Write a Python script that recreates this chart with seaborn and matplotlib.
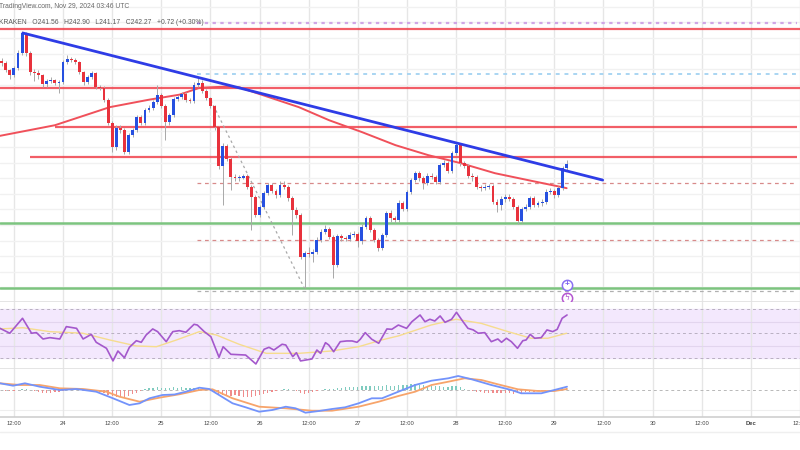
import numpy as np
import pandas as pd
import matplotlib
matplotlib.use("Agg")
import matplotlib.pyplot as plt
import seaborn as sns

sns.set_theme(style="white")
plt.rcParams['font.family'] = ['Liberation Sans', 'DejaVu Sans']

# --- DATA: SOL/USD 1h candles (Kraken) ---
FIRST_CANDLE = pd.Timestamp("2024-11-23 09:00")
ORIGIN = pd.Timestamp("2024-11-23 12:00")      # hour 0 on the x axis
first_open = 258.8

closes = [258.5, 257.4, 256.6, 257.7, 260.1, 263.3, 260.1, 257.0, 256.9, 256.6,
          255.1, 255.6, 255.8, 255.3, 255.4, 258.6, 259.1, 259.0, 258.6, 257.0,
          255.4, 256.2, 256.9, 254.6, 254.5, 252.6, 248.9, 245.0, 248.1, 247.7,
          244.2, 246.9, 247.7, 249.8, 248.9, 251.0, 251.3, 252.2, 253.4, 251.6,
          249.0, 250.1, 252.7, 253.0, 253.5, 252.6, 252.4, 255.0, 255.3, 254.0,
          252.9, 251.6, 248.2, 242.0, 245.2, 243.1, 240.2, 240.0, 240.1, 240.3,
          238.6, 237.0, 234.1, 235.4, 237.6, 238.9, 237.9, 237.3, 238.9, 238.6,
          236.8, 234.9, 234.1, 227.4, 228.0, 227.8, 228.2, 230.1, 231.4, 231.8,
          230.6, 226.1, 230.7, 230.4, 230.2, 230.9, 231.0, 229.9, 232.2, 233.6,
          231.7, 230.1, 228.8, 230.9, 234.4, 233.6, 233.3, 236.0, 235.1, 237.8,
          239.7, 240.8, 240.0, 239.2, 240.4, 240.2, 239.4, 242.1, 242.4, 241.2,
          244.0, 245.3, 242.4, 242.0, 240.4, 240.2, 238.6, 238.4, 238.6, 238.7,
          236.2, 235.7, 236.7, 237.0, 236.7, 235.4, 233.1, 235.0, 235.4, 236.8,
          235.7, 236.0, 236.2, 237.8, 237.9, 237.3, 238.4, 241.6, 242.3]
highs = [259.3, 258.8, 257.6, 258.0, 260.6, 263.6, 263.4, 260.4, 257.5, 257.3,
         256.8, 255.9, 256.2, 256.0, 255.8, 258.9, 259.8, 259.5, 259.3, 258.8,
         257.2, 256.5, 257.2, 257.1, 255.0, 254.8, 252.8, 249.2, 248.5, 248.6,
         248.0, 247.3, 248.0, 250.2, 250.1, 251.3, 251.7, 252.6, 254.9, 253.7,
         251.9, 250.5, 253.0, 253.4, 253.9, 253.8, 252.9, 255.4, 256.1, 255.7,
         254.3, 253.1, 251.8, 248.4, 245.6, 245.5, 243.4, 240.6, 240.5, 240.7,
         240.6, 238.9, 237.3, 235.7, 237.9, 239.3, 239.2, 238.2, 239.6, 239.5,
         238.9, 237.1, 235.3, 234.4, 228.3, 228.9, 228.6, 230.5, 231.8, 232.5,
         232.1, 230.9, 231.0, 231.1, 230.8, 231.3, 231.5, 231.3, 232.6, 234.0,
         233.9, 232.0, 230.4, 231.2, 234.8, 234.9, 234.0, 236.5, 236.4, 238.1,
         240.1, 241.2, 241.1, 240.4, 240.8, 240.8, 240.5, 242.5, 242.9, 242.7,
         244.4, 245.6, 245.5, 242.8, 242.3, 240.9, 240.5, 238.9, 239.0, 239.1,
         239.0, 236.6, 237.1, 237.5, 237.4, 237.0, 235.7, 235.4, 235.8, 237.2,
         237.1, 236.4, 236.6, 238.2, 238.4, 238.2, 238.8, 242.0, 242.9]
lows = [258.0, 257.0, 256.0, 256.2, 257.4, 259.8, 259.6, 256.5, 255.6, 255.9,
        254.7, 254.6, 255.3, 254.9, 253.6, 255.1, 258.3, 258.6, 258.3, 256.7,
        255.0, 255.1, 255.9, 254.3, 254.1, 252.3, 248.5, 244.2, 244.6, 247.3,
        243.9, 243.9, 246.6, 247.4, 248.6, 248.6, 250.7, 251.0, 251.9, 251.2,
        246.1, 248.6, 249.8, 252.4, 252.7, 252.3, 252.0, 252.1, 254.7, 253.7,
        252.5, 251.2, 247.8, 241.4, 235.7, 242.7, 238.1, 239.6, 239.6, 239.8,
        238.2, 231.7, 233.7, 233.8, 235.1, 237.3, 237.6, 236.9, 237.0, 238.2,
        236.4, 230.9, 233.6, 227.0, 222.4, 227.3, 226.5, 227.9, 229.8, 231.0,
        230.2, 224.0, 225.8, 230.0, 229.9, 229.9, 230.6, 229.0, 229.5, 231.9,
        231.3, 229.7, 228.3, 228.5, 230.6, 232.9, 232.8, 233.0, 234.7, 234.8,
        237.5, 239.4, 239.6, 238.3, 238.9, 239.8, 239.0, 239.1, 241.8, 240.8,
        240.9, 243.7, 242.0, 241.6, 240.0, 239.6, 238.2, 238.0, 238.1, 238.2,
        235.8, 234.6, 234.9, 236.2, 236.3, 235.0, 232.7, 232.8, 234.7, 235.1,
        235.3, 235.4, 235.6, 235.9, 237.5, 236.9, 237.0, 238.1, 241.2]

# 100-period moving average (red curve), sampled along the chart
ma_hours = [-3.4, 10, 23.4, 33, 40.4, 45.3, 48.4, 52, 55, 62.3, 69.6, 77, 85,
            93.2, 101.2, 109.2, 117.5, 125.5, 133.6, 135]
ma_prices = [246.8, 248.5, 251.4, 252.6, 253.4, 254.5, 254.6, 254.7, 254.6, 253.0,
             251.4, 249.3, 247.4, 245.3, 243.7, 242.4, 240.8, 239.7, 238.6, 238.4]

# drawings: descending trend line, dotted swing line, horizontal levels
trend_hours = [2.2, 143.8]
trend_prices = [263.3, 239.7]
swing_hours = [48.1, 70.9]
swing_prices = [252.5, 222.4]
red_levels = [263.9, 254.5, 248.2, 243.4]
red_level_from = [None, None, 10.0, 4.0]
green_levels = [232.8, 222.4]
dashed_levels = [239.2, 230.1, 221.9]
dashed_from = 44.8
purple_dotted, blue_dotted = 264.9, 256.7

# RSI(14) and its moving average
rsi_hours = [-3.4, -1.0, 2.1, 4.3, 5.5, 7.1, 8.8, 11.2, 12.8, 15.3, 16.9, 18.9, 20.1,
             22.6, 24.2, 25.4, 27.0, 28.2, 29.9, 31.1, 32.3, 33.9, 35.1, 37.2, 38.8,
             40.4, 42.0, 44.0, 44.8, 46.5, 48.1, 50.1, 51.1, 53.0, 56.6, 59.1, 61.1,
             62.3, 63.5, 65.5, 66.4, 68.1, 69.0, 70.0, 72.8, 74.0, 74.9, 76.1, 76.9,
             78.1, 79.7, 81.3, 82.6, 83.8, 84.6, 85.8, 87.4, 89.1, 91.1, 92.3, 93.9,
             95.9, 97.2, 99.2, 100.4, 101.6, 102.8, 104.1, 105.3, 106.9, 108.1, 109.7,
             110.9, 112.2, 113.4, 115.0, 116.6, 118.2, 119.1, 120.3, 121.5, 123.0,
             124.3, 125.1, 126.1, 127.2, 128.8, 130.2, 131.6, 132.7, 133.9, 135.1]
rsi_vals = [54.2, 50.2, 62.4, 50.2, 50.7, 45.5, 46.6, 45.5, 55.6, 54.2, 45.5, 49.3, 42.8,
            37.9, 27.6, 35.7, 30.2, 38.7, 44.1, 42.8, 48.8, 53.7, 51.5, 43.3, 51.5,
            52.3, 51.0, 57.5, 56.9, 51.5, 47.4, 30.6, 39.2, 33.0, 32.4, 25.1, 37.1,
            38.7, 36.5, 41.2, 40.6, 31.1, 34.3, 27.6, 29.2, 36.5, 33.8, 42.5, 40.6,
            35.1, 43.3, 43.9, 43.9, 42.8, 45.3, 50.7, 45.3, 42.0, 53.7, 53.4, 56.9,
            54.2, 59.6, 65.1, 59.6, 61.6, 60.2, 64.3, 59.1, 61.6, 67.3, 59.6,
            54.2, 52.9, 50.2, 50.7, 43.3, 45.5, 42.8, 46.1, 43.3, 37.9,
            44.1, 44.7, 49.3, 46.1, 46.6, 52.9, 51.5, 53.4, 62.4, 65.1]
rsi_ma_hours = [-3.4, 2.2, 8.8, 16.8, 23.4, 29.9, 34.8, 39.7, 45.3, 49.4, 55.0, 61.6,
                69.6, 77.6, 84.2, 89.8, 93.9, 101.9, 108.0, 114.1, 120.7, 126.3, 130.4, 135.0]
rsi_ma_vals = [53.7, 54.7, 51.5, 50.2, 44.7, 39.8, 39.2, 44.7, 51.5, 48.8, 41.2, 33.8,
               33.8, 35.7, 39.2, 44.7, 48.0, 56.9, 61.6, 58.3, 51.5, 46.1, 46.1, 50.2]

# MACD (12, 26, 9)
macd_hours = [-3.4, -0.2, 2.7, 6.3, 11.2, 15.3, 20.1, 24.2, 28.2, 30.7, 33.1, 36.3, 39.2,
              42.0, 45.3, 47.7, 50.1, 53.4, 56.6, 59.9, 63.1, 66.4, 68.8, 71.2, 74.5,
              77.7, 80.9, 84.2, 87.4, 89.9, 93.9, 98.0, 102.0, 106.1, 108.5, 111.8,
              116.6, 121.5, 123.9, 128.8, 132.0, 135.1]
macd_vals = [1.34, 0.86, 1.34, 0.66, 0.0, 0.2, -0.34, -1.66, -3.0, -2.66, -1.66, -1.0, -0.9,
             -0.34, 0.46, 0.2, -1.0, -2.66, -3.46, -4.34, -4.0, -3.34, -3.66, -4.54, -4.2,
             -3.8, -3.46, -2.66, -1.66, -1.66, -0.34, 1.0, 1.86, 2.34, 2.8, 2.14,
             1.0, 0.0, -0.66, -0.66, 0.0, 0.66]
signal_hours = [-3.4, 1.5, 6.3, 11.2, 16.9, 22.6, 25.8, 30.7, 35.5, 40.4, 45.3, 48.5,
                53.4, 59.9, 66.4, 72.8, 77.7, 84.2, 89.1, 93.9, 98.0, 102.0, 106.1,
                110.1, 114.2, 118.2, 123.1, 128.0, 132.0, 135.1]
signal_vals = [1.34, 1.0, 1.0, 0.34, 0.2, -0.34, -1.34, -2.34, -1.54, -0.86, 0.0, 0.14,
               -1.66, -3.34, -3.66, -4.14, -4.14, -3.34, -2.34, -1.2, -0.34, 1.0, 1.66,
               2.34, 2.0, 1.14, 0.14, -0.2, -0.2, 0.2]
hist_vals = [0.0, -0.1, -0.15, -0.1, 0.05, 0.15, 0.2, 0.1, -0.1,
             -0.3, -0.5, -0.6, -0.5, -0.4, -0.3,
             -0.1, 0.1, 0.15, 0.1, 0.0, -0.1, -0.05, 0.0,
             -0.2, -0.4, -0.6, -0.9, -1.2, -1.4, -1.3, -1.5, -1.2, -0.8,
             -0.5, -0.2, 0.2,
             0.4, 0.5, 0.6, 0.5, 0.4, 0.5, 0.6, 0.5, 0.6, 0.5, 0.5, 0.4,
             0.4, 0.3, 0.1, -0.1,
             -0.4, -0.8, -0.9, -1.1, -1.2, -1.0, -1.1, -1.3, -1.4, -1.3, -1.2, -1.0,
             -0.8, -0.6, -0.4, -0.2, 0.1, 0.3, 0.2, 0.0, -0.2,
             -0.5, -0.7, -0.6, -0.4, -0.2, 0.0, 0.2, 0.3, 0.3, 0.4,
             0.5, 0.6, 0.6, 0.6, 0.7, 0.8, 0.9, 0.9, 0.8, 0.8,
             0.9, 1.0, 0.9, 0.9, 1.0, 1.0, 1.1, 1.2, 1.2, 1.1, 1.0, 0.9,
             0.9, 0.8, 0.8, 0.7, 0.7, 0.8, 0.8, 0.6, 0.3,
             0.1, -0.1, -0.3, -0.4, -0.5, -0.5, -0.6, -0.6, -0.5, -0.5, -0.6, -0.7, -0.6, -0.5,
             -0.4, -0.4, -0.3, -0.2, -0.1, 0.0, 0.1,
             0.2, 0.3, 0.4, 0.5]

tick_labels = ["12:00", "24", "12:00", "25", "12:00", "26", "12:00", "27", "12:00",
               "28", "12:00", "29", "12:00", "30", "12:00", "Dec", "12:00"]

# --- FRAME ---
times = pd.date_range(FIRST_CANDLE, periods=len(closes), freq="h")
df = pd.DataFrame({
    'hour': (times - ORIGIN) / pd.Timedelta(hours=1),
    'open': [first_open] + closes[:-1],
    'high': highs, 'low': lows, 'close': closes, 'hist': hist_vals,
})
df['up'] = df['close'] >= df['open']
tick_times = pd.date_range(ORIGIN, periods=len(tick_labels), freq="12h")
tick_hours = (tick_times - ORIGIN) / pd.Timedelta(hours=1)

BLUE, RED = "#2650e0", "#e8323c"
XLIM = (-3.4, 191.2)

fig = plt.figure(figsize=(8, 4.5), dpi=100)
H = 450.0
def pane(top_px, bottom_px):
    return [0, 1 - bottom_px / H, 1, (bottom_px - top_px) / H]

ax = fig.add_axes(pane(0, 302))
ax_rsi = fig.add_axes(pane(302, 369))
ax_macd = fig.add_axes(pane(369, 417))

for a in (ax, ax_rsi, ax_macd):
    a.set_xlim(*XLIM)
    a.set_xticks(tick_hours)
    a.grid(axis='x', color="#e6e6e6", lw=1)
    a.tick_params(length=0, labelbottom=False, labelleft=False)
    for s in ('top', 'left', 'right'):
        a.spines[s].set_visible(False)
    a.set_xlabel("")
    a.set_ylabel("")

# --- MAIN PRICE PANE ---
ax.set_ylim(220.13, 268.6)
ax.set_yticks(np.arange(222.5, 268, 2.5))
ax.grid(axis='y', color="#f1f1f1", lw=1)
ax.spines['bottom'].set_color("#e2e2e2")
ax.spines['bottom'].set_linewidth(2)

for lv, start in zip(red_levels, red_level_from):
    if start is None:
        ax.axhline(lv, color="#f0424c", lw=1.6, alpha=0.85, zorder=2)
    else:
        ax.hlines(lv, start, XLIM[1], color="#f0424c", lw=1.6, alpha=0.85, zorder=2)
for lv in green_levels:
    ax.axhline(lv, color="#7cc47f", lw=1.8, zorder=2)
for lv, col in zip(dashed_levels, ["#d88a8a", "#d88a8a", "#b0b0b0"]):
    ax.hlines(lv, dashed_from, XLIM[1], color=col, lw=0.9, ls=(0, (3, 3)), zorder=2)
ax.hlines(purple_dotted, dashed_from, XLIM[1], color="#cfa6e6", lw=1.6, ls=(0, (1.5, 2)), zorder=2)
ax.hlines(blue_dotted, dashed_from, XLIM[1], color="#a9d5f2", lw=1.4, ls=(0, (2, 2.5)), zorder=2)

sns.lineplot(x=ma_hours, y=ma_prices, ax=ax, color="#f0505a", lw=1.4, zorder=3)
sns.lineplot(x=swing_hours, y=swing_prices, ax=ax, color="#a8a8a8", lw=0.9,
             ls=(0, (2, 2.5)), zorder=3)

for up, col in ((True, BLUE), (False, RED)):
    sub = df[df['up'] == up]
    ax.vlines(sub['hour'], sub['low'], sub['high'], color="#a8a8a8", lw=0.7, zorder=4)
    body = (sub['close'] - sub['open']).abs().clip(lower=0.12)
    ax.bar(sub['hour'], body, bottom=np.minimum(sub['open'], sub['close']),
           width=0.7, color=col, linewidth=0, zorder=5)

sns.lineplot(x=trend_hours, y=trend_prices, ax=ax, color="#2e3ce6", lw=2.0, zorder=6)

# indicator badges at the last bar
last_h = df['hour'].iloc[-1]
ax.scatter([last_h], [222.9], s=55, facecolor="white", edgecolor="#8a70f2", lw=1.1, zorder=7)
ax.text(last_h, 222.9, "+", color="#7a5cf0", ha='center', va='center', fontsize=6,
        fontweight='bold', zorder=8)
ax.scatter([last_h], [220.8], s=55, facecolor="white", edgecolor="#b455d0", lw=1.1, zorder=7)
ax.text(last_h, 220.8, "ϟ", color="#b455d0", ha='center', va='center', fontsize=5.5,
        family=['DejaVu Sans'], zorder=8)
ax.set_xlabel("")
ax.set_ylabel("")

# --- RSI PANE ---
ax_rsi.set_ylim(21.0, 75.7)
ax_rsi.set_yticks([])
ax_rsi.axhspan(30, 70, color="#f3e8fd", zorder=0)
for lv in (59.4, 39.8):
    ax_rsi.axhline(lv, color="#e2d5ee", lw=0.8, zorder=1)
for lv in (70, 50, 30):
    ax_rsi.axhline(lv, color="#b9b0c2", lw=0.7, ls=(0, (3, 3)), zorder=1)
sns.lineplot(x=rsi_ma_hours, y=rsi_ma_vals, ax=ax_rsi, color="#f6dc8e", lw=1.0, zorder=2)
sns.lineplot(x=rsi_hours, y=rsi_vals, ax=ax_rsi, color="#a458cc", lw=1.2, zorder=3)
ax_rsi.spines['bottom'].set_color("#e2e2e2")
ax_rsi.spines['bottom'].set_linewidth(2)
ax_rsi.set_xlabel("")
ax_rsi.set_ylabel("")

# --- MACD PANE ---
ax_macd.set_ylim(-5.4, 4.2)
ax_macd.set_yticks([])
ax_macd.axhline(-4.0, color="#eeeeee", lw=0.8, zorder=0)
ax_macd.axhline(0, color="#b8b8b8", lw=0.7, ls=(0, (3, 3)), zorder=1)
hist_cols = np.where(df['hist'] >= 0, "#7fcbbf", "#f08c8c")
ax_macd.bar(df['hour'], df['hist'], width=0.32, color=hist_cols, linewidth=0, zorder=2)
sns.lineplot(x=signal_hours, y=signal_vals, ax=ax_macd, color="#f7a46b", lw=1.3, zorder=3)
sns.lineplot(x=macd_hours, y=macd_vals, ax=ax_macd, color="#7393fb", lw=1.3, zorder=4)
ax_macd.spines['bottom'].set_color("#cfcfcf")
ax_macd.spines['bottom'].set_linewidth(1.2)
ax_macd.tick_params(axis='x', labelbottom=True, pad=3, labelsize=4.2, labelcolor="#444444")
ax_macd.set_xticklabels(tick_labels)
for lab in ax_macd.get_xticklabels():
    if lab.get_text() == "Dec":
        lab.set_fontweight('bold')
ax_macd.set_xlabel("")
ax_macd.set_ylabel("")

fig.add_artist(plt.Line2D([0, 1], [1 - 432 / H] * 2, color="#efefef", lw=1))

# --- HEADER ---
fig.text(-0.001, 1 - 7 / H, "TradingView.com, Nov 29, 2024 03:46 UTC",
         fontsize=4.9, color="#6a6a6a", va='center', ha='left')
fig.text(-0.001, 1 - 22 / H, "KRAKEN   O241.56   H242.90   L241.17   C242.27   +0.72 (+0.30%)",
         fontsize=4.9, color="#5a5a5a", va='center', ha='left')

fig.savefig("out.png", dpi=100, facecolor="white")
